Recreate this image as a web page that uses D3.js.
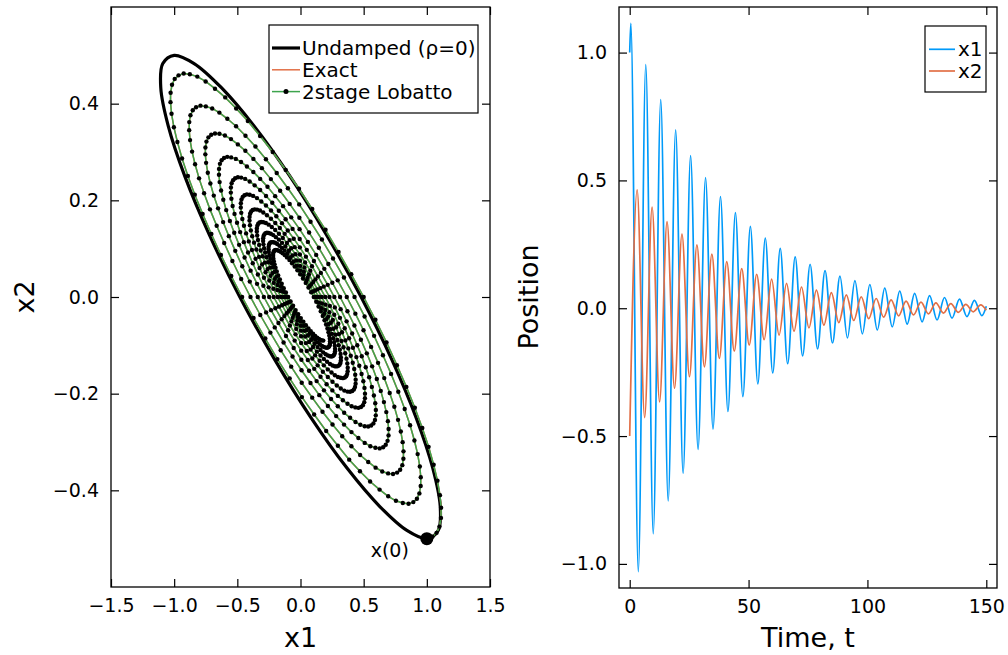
<!DOCTYPE html>
<html><head><meta charset="utf-8">
<script src="https://cdn.jsdelivr.net/npm/d3@7"></script>
<style>
body{margin:0;background:#fff}
svg{display:block}
text{font-family:"DejaVu Sans",sans-serif;fill:#000}
</style>
</head><body>
<svg id="c" width="1008" height="655"></svg>
<script>
// ---------- DATA ----------
// Right panel: extrema of x1(t) and x2(t) (time, value), plus start/end samples
const x1ExtT = [0.48,3.62,6.76,9.90,13.05,16.19,19.33,22.47,25.61,28.75,31.90,35.04,38.18,41.32,44.46,47.60,
  50.75,53.89,57.03,60.17,63.31,66.45,69.60,72.74,75.88,79.02,82.16,85.30,88.44,91.59,94.73,97.87,
  101.01,104.15,107.29,110.43,113.58,116.72,119.86,123.00,126.14,129.28,132.42,135.57,138.71,141.85,144.99,148.13];
const x1ExtV = [1.114,-1.030,0.953,-0.882,0.816,-0.754,0.698,-0.646,0.597,-0.552,0.511,-0.473,0.437,-0.404,0.374,-0.346,
  0.320,-0.296,0.274,-0.253,0.234,-0.217,0.201,-0.186,0.172,-0.159,0.147,-0.136,0.126,-0.116,0.108,-0.100,
  0.092,-0.085,0.079,-0.073,0.067,-0.062,0.058,-0.053,0.049,-0.046,0.042,-0.039,0.036,-0.033,0.031,-0.029];
const x2ExtT = [0,3.14,6.28,9.42,12.57,15.71,18.85,21.99,25.13,28.27,31.42,34.56,37.70,40.84,43.98,47.12,
  50.27,53.41,56.55,59.69,62.83,65.97,69.12,72.26,75.40,78.54,81.68,84.82,87.96,91.11,94.25,97.39,
  100.53,103.67,106.81,109.96,113.10,116.24,119.38,122.52,125.66,128.81,131.95,135.09,138.23,141.37,144.51,147.65];
const x2ExtV = [-0.500,0.463,-0.428,0.396,-0.366,0.339,-0.313,0.290,-0.268,0.248,-0.229,0.212,-0.196,0.182,-0.168,0.155,
  -0.144,0.133,-0.123,0.114,-0.105,0.097,-0.090,0.083,-0.077,0.071,-0.066,0.061,-0.056,0.052,-0.048,0.045,
  -0.041,0.038,-0.035,0.033,-0.030,0.028,-0.026,0.024,-0.022,0.021,-0.019,0.018,-0.016,0.015,-0.014,0.013];
const x1Start = [0, 1.000], x1End = [150, 0.008];
const x2End = [150, -0.008];

// Left panel: first half-turn of the 2-stage Lobatto trajectory (dot positions, x1 / x2)
const halfTurnX1 = [1.000,1.044,1.077,1.100,1.112,1.113,1.104,1.084,1.054,1.014,0.964,0.905,0.838,0.763,0.681,0.593,
  0.500,0.402,0.301,0.198,0.093,-0.012,-0.117,-0.220,-0.320,-0.417,-0.509,-0.596,-0.677,-0.751,-0.817,-0.876];
const halfTurnX2 = [-0.500,-0.496,-0.488,-0.475,-0.457,-0.436,-0.410,-0.380,-0.347,-0.310,-0.271,-0.229,-0.186,-0.141,-0.094,-0.047,
  0.000,0.047,0.093,0.139,0.182,0.224,0.263,0.300,0.333,0.364,0.390,0.413,0.431,0.446,0.456,0.461];
const phaseHalfTurns = 22;   // number of half-turns shown in the phase plot

// Undamped (rho = 0) ellipse, points around it
const undampedX1 = [1.000,1.090,1.106,1.047,0.916,0.722,0.480,0.205,-0.084,-0.368,-0.626,-0.842,
  -1.000,-1.090,-1.106,-1.047,-0.916,-0.722,-0.480,-0.205,0.084,0.368,0.626,0.842];
const undampedX2 = [-0.500,-0.483,-0.433,-0.354,-0.250,-0.129,0.000,0.129,0.250,0.354,0.433,0.483,
  0.500,0.483,0.433,0.354,0.250,0.129,0.000,-0.129,-0.250,-0.354,-0.433,-0.483];
const initialPoint = [1.0, -0.5];

// Ticks
const leftXTicks = [-1.5,-1.0,-0.5,0.0,0.5,1.0,1.5];
const leftYTicks = [-0.4,-0.2,0.0,0.2,0.4];
const rightXTicks = [0,50,100,150];
const rightYTicks = [-1.0,-0.5,0.0,0.5,1.0];

// ---------- STYLE ----------
const C_BLUE="#009af9", C_ORANGE="#e26f46", C_GREEN="#3da44d";
const F_TICK=19, F_GUIDE=27, F_LEG=20;

const svg=d3.select("#c");
svg.append("rect").attr("width",1008).attr("height",655).attr("fill","#fff");

function drawFrame(g, x, y, box, xt, yt, xf, yf){
  const ax = [
    [d3.axisBottom(x).tickValues(xt).tickFormat(xf).tickSize(-8).tickPadding(12), `translate(0,${box.y1})`],
    [d3.axisTop(x).tickValues(xt).tickFormat("").tickSize(-8), `translate(0,${box.y0})`],
    [d3.axisLeft(y).tickValues(yt).tickFormat(yf).tickSize(-8).tickPadding(12), `translate(${box.x0},0)`],
    [d3.axisRight(y).tickValues(yt).tickFormat("").tickSize(-8), `translate(${box.x1},0)`]
  ];
  ax.forEach(([a,tr])=>{
    const gg=g.append("g").attr("transform",tr).call(a);
    gg.select(".domain").remove();
    gg.selectAll(".tick line").attr("stroke","#000").attr("stroke-width",1.2);
    gg.selectAll(".tick text").attr("font-size",F_TICK).attr("font-family","DejaVu Sans").attr("fill","#000");
  });
  g.append("rect").attr("x",box.x0).attr("y",box.y0).attr("width",box.x1-box.x0).attr("height",box.y1-box.y0)
    .attr("fill","none").attr("stroke","#000").attr("stroke-width",1.3);
}

// ---------- LEFT PANEL ----------
const L={x0:111,x1:490,y0:7,y1:587};
const xL=d3.scaleLinear().domain([-1.5,1.5]).range([L.x0,L.x1]);
const yL=d3.scaleLinear().domain([-0.6,0.6]).range([L.y1,L.y0]);
svg.append("clipPath").attr("id","clipL").append("rect").attr("x",L.x0).attr("y",L.y0).attr("width",L.x1-L.x0).attr("height",L.y1-L.y0);
const gL=svg.append("g");
const plotL=gL.append("g").attr("clip-path","url(#clipL)");

const undamped = undampedX1.map((v,i)=>[v,undampedX2[i]]);
plotL.append("path").datum(undamped)
  .attr("d",d3.line().x(d=>xL(d[0])).y(d=>yL(d[1])).curve(d3.curveCatmullRomClosed.alpha(0.5)))
  .attr("fill","none").attr("stroke","#000").attr("stroke-width",3.2);

// trajectory: half-turns scaled by the x1 extrema ratios
const scaleN = x1ExtV.map(v=>v/x1ExtV[0]);
const traj=[];
for(let n=0;n<phaseHalfTurns;n++){
  for(let k=0;k<halfTurnX1.length;k++) traj.push([halfTurnX1[k]*scaleN[n], halfTurnX2[k]*scaleN[n]]);
}
traj.push([halfTurnX1[0]*scaleN[phaseHalfTurns], halfTurnX2[0]*scaleN[phaseHalfTurns]]);

const lineL=d3.line().x(d=>xL(d[0])).y(d=>yL(d[1]));
plotL.append("path").datum(traj).attr("d",lineL).attr("fill","none").attr("stroke",C_ORANGE).attr("stroke-width",1.5);
plotL.append("path").datum(traj).attr("d",lineL).attr("fill","none").attr("stroke",C_GREEN).attr("stroke-width",1.5);
plotL.append("g").selectAll("circle").data(traj).join("circle")
  .attr("cx",d=>xL(d[0])).attr("cy",d=>yL(d[1])).attr("r",2.2).attr("fill","#000");

plotL.append("circle").attr("cx",xL(initialPoint[0])).attr("cy",yL(initialPoint[1])).attr("r",6.5).attr("fill","#000");
gL.append("text").attr("x",xL(initialPoint[0])-18).attr("y",yL(initialPoint[1])+12)
  .attr("text-anchor","end").attr("dy","0.35em").attr("font-size",F_TICK).text("x(0)");

const fmt1=d3.format(".1f");
drawFrame(gL,xL,yL,L,leftXTicks,leftYTicks,fmt1,fmt1);

// legend left
const legL=gL.append("g");
legL.append("rect").attr("x",269).attr("y",25).attr("width",209).attr("height",88)
  .attr("fill","#fff").attr("stroke","#000").attr("stroke-width",1.2);
const legItemsL=[{t:"Undamped (ρ=0)",c:"#000",w:3.2,dot:false},{t:"Exact",c:C_ORANGE,w:1.5,dot:false},{t:"2stage Lobatto",c:C_GREEN,w:1.5,dot:true}];
legItemsL.forEach((d,i)=>{
  const yy=48+i*21.8;
  legL.append("line").attr("x1",272).attr("x2",300).attr("y1",yy).attr("y2",yy).attr("stroke",d.c).attr("stroke-width",d.w);
  if(d.dot) legL.append("circle").attr("cx",286).attr("cy",yy).attr("r",2.5).attr("fill","#000");
  legL.append("text").attr("x",302).attr("y",yy).attr("dy","0.35em").attr("font-size",F_LEG).text(d.t);
});

gL.append("text").attr("x",(L.x0+L.x1)/2).attr("y",638).attr("dy","0.35em").attr("text-anchor","middle").attr("font-size",F_GUIDE).text("x1");
gL.append("text").attr("transform","translate(25,297) rotate(-90)").attr("dy","0.35em").attr("text-anchor","middle").attr("font-size",F_GUIDE).text("x2");

// ---------- RIGHT PANEL ----------
const R={x0:619,x1:997,y0:7,y1:588};
const tMin=0,tMax=150;
const xR=d3.scaleLinear().domain([tMin-0.03*(tMax-tMin), tMax+0.03*(tMax-tMin)]).range([R.x0,R.x1]);
const allV=x1ExtV.concat(x2ExtV,[x1Start[1]]);
const vMin=d3.min(allV), vMax=d3.max(allV), pad=0.03*(vMax-vMin);
const yR=d3.scaleLinear().domain([vMin-pad,vMax+pad]).range([R.y1,R.y0]);
svg.append("clipPath").attr("id","clipR").append("rect").attr("x",R.x0).attr("y",R.y0).attr("width",R.x1-R.x0).attr("height",R.y1-R.y0);
const gR=svg.append("g");
const plotR=gR.append("g").attr("clip-path","url(#clipR)");

const s1=[x1Start].concat(x1ExtT.map((t,i)=>[t,x1ExtV[i]]),[x1End]);
const s2=x2ExtT.map((t,i)=>[t,x2ExtV[i]]).concat([x2End]);
const lineR=d3.line().x(d=>xR(d[0])).y(d=>yR(d[1])).curve(d3.curveMonotoneX);
plotR.append("path").datum(s1).attr("d",lineR).attr("fill","none").attr("stroke",C_BLUE).attr("stroke-width",1.7);
plotR.append("path").datum(s2).attr("d",lineR).attr("fill","none").attr("stroke",C_ORANGE).attr("stroke-width",1.7);

drawFrame(gR,xR,yR,R,rightXTicks,rightYTicks,d3.format("d"),fmt1);

const legR=gR.append("g");
legR.append("rect").attr("x",925).attr("y",26).attr("width",61).attr("height",66)
  .attr("fill","#fff").attr("stroke","#000").attr("stroke-width",1.2);
[{t:"x1",c:C_BLUE},{t:"x2",c:C_ORANGE}].forEach((d,i)=>{
  const yy=49.3+i*21.7;
  legR.append("line").attr("x1",929).attr("x2",955).attr("y1",yy).attr("y2",yy).attr("stroke",d.c).attr("stroke-width",1.7);
  legR.append("text").attr("x",958).attr("y",yy).attr("dy","0.35em").attr("font-size",F_LEG).text(d.t);
});

gR.append("text").attr("x",(R.x0+R.x1)/2).attr("y",638).attr("dy","0.35em").attr("text-anchor","middle").attr("font-size",F_GUIDE).text("Time, t");
gR.append("text").attr("transform","translate(529,297) rotate(-90)").attr("dy","0.35em").attr("text-anchor","middle").attr("font-size",F_GUIDE).text("Position");
</script>
</body></html>
